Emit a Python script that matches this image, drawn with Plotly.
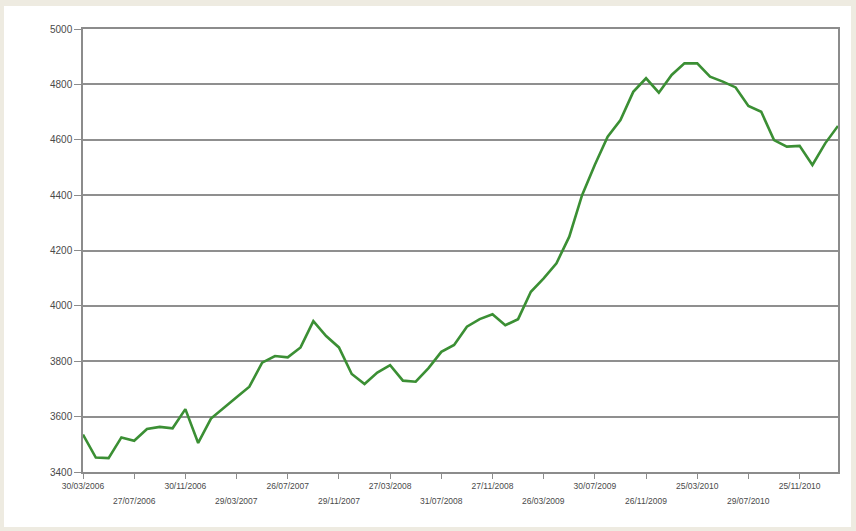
import plotly.graph_objects as go

dates = [
    "30/03/2006", "27/04/2006", "25/05/2006", "29/06/2006", "27/07/2006", "31/08/2006",
    "28/09/2006", "26/10/2006", "30/11/2006", "28/12/2006",
    "25/01/2007", "22/02/2007", "29/03/2007", "26/04/2007", "31/05/2007", "28/06/2007",
    "26/07/2007", "30/08/2007", "27/09/2007", "25/10/2007", "29/11/2007", "27/12/2007",
    "31/01/2008", "28/02/2008", "27/03/2008", "24/04/2008", "29/05/2008", "26/06/2008",
    "31/07/2008", "28/08/2008", "25/09/2008", "30/10/2008", "27/11/2008", "25/12/2008",
    "29/01/2009", "26/02/2009", "26/03/2009", "30/04/2009", "28/05/2009", "25/06/2009",
    "30/07/2009", "27/08/2009", "24/09/2009", "29/10/2009", "26/11/2009", "31/12/2009",
    "28/01/2010", "25/02/2010", "25/03/2010", "29/04/2010", "27/05/2010", "24/06/2010",
    "29/07/2010", "26/08/2010", "30/09/2010", "28/10/2010", "25/11/2010", "30/12/2010",
    "27/01/2011", "24/02/2011",
]

values = [
    3535, 3452, 3450, 3525, 3513, 3555, 3563, 3558, 3627, 3505,
    3593, 3630, 3670, 3708, 3795, 3819, 3814, 3850, 3945, 3891,
    3850, 3754, 3718, 3759, 3786, 3730, 3726, 3775, 3834, 3859,
    3925, 3952, 3970, 3930, 3952, 4051, 4099, 4154, 4250, 4400,
    4510, 4611, 4671, 4773, 4822, 4770, 4834, 4876, 4876, 4828,
    4810, 4789, 4722, 4701, 4599, 4575, 4578, 4509, 4587, 4650,
]

tick_dates = [
    "30/03/2006", "27/07/2006", "30/11/2006", "29/03/2007", "26/07/2007",
    "29/11/2007", "27/03/2008", "31/07/2008", "27/11/2008", "26/03/2009",
    "30/07/2009", "26/11/2009", "25/03/2010", "29/07/2010", "25/11/2010",
]
upper_text = [d if i % 2 == 0 else "" for i, d in enumerate(tick_dates)]
lower_dates = [d for i, d in enumerate(tick_dates) if i % 2 == 1]

y_ticks = [3400, 3600, 3800, 4000, 4200, 4400, 4600, 4800, 5000]

fig = go.Figure()
fig.add_trace(go.Scatter(
    x=dates, y=values, mode="lines",
    line=dict(color="#3b8f34", width=2.6),
    showlegend=False, hoverinfo="x+y",
))

x_font = dict(family="Liberation Sans, Arial, sans-serif", size=8.5, color="#4a4a4a")
y_font = dict(family="Liberation Sans, Arial, sans-serif", size=10, color="#4a4a4a")
annotations = [
    dict(x=d, y=-0.0655, xref="x", yref="paper", text=d, showarrow=False,
         xanchor="center", yanchor="middle", font=x_font)
    for d in lower_dates
]

axis_col = "#8c8c8c"
fig.update_layout(
    width=856, height=531,
    margin=dict(l=83, r=18, t=29, b=59),
    paper_bgcolor="#eeebe1",
    plot_bgcolor="white",
    font=x_font,
    xaxis=dict(
        type="category", range=[0, len(dates) - 1],
        tickmode="array", tickvals=tick_dates, ticktext=upper_text,
        ticks="outside", ticklen=5, tickcolor=axis_col, tickwidth=1.2,
        showgrid=False, showline=True, linecolor=axis_col, linewidth=1.5,
        mirror=True, tickangle=0, tickfont=x_font,
    ),
    yaxis=dict(
        range=[3400, 5000], tickmode="array", tickvals=y_ticks,
        ticktext=[str(v) for v in y_ticks],
        ticks="outside", ticklen=7, tickcolor=axis_col, tickwidth=1.2,
        showgrid=True, gridcolor="#8f8f8f", gridwidth=1.6,
        showline=True, linecolor=axis_col, linewidth=1.5, mirror=True,
        zeroline=False, tickfont=y_font,
    ),
    annotations=annotations,
    shapes=[dict(
        type="rect", xref="paper", yref="paper", layer="below",
        x0=-0.1046, x1=1.0172, y0=-0.1242, y1=1.0519,
        fillcolor="white", line=dict(width=0),
    )],
)

fig.write_html(
    "out.html",
    config={"displayModeBar": False},
    post_script="document.body.style.margin='0px';document.body.style.overflow='hidden';",
)
